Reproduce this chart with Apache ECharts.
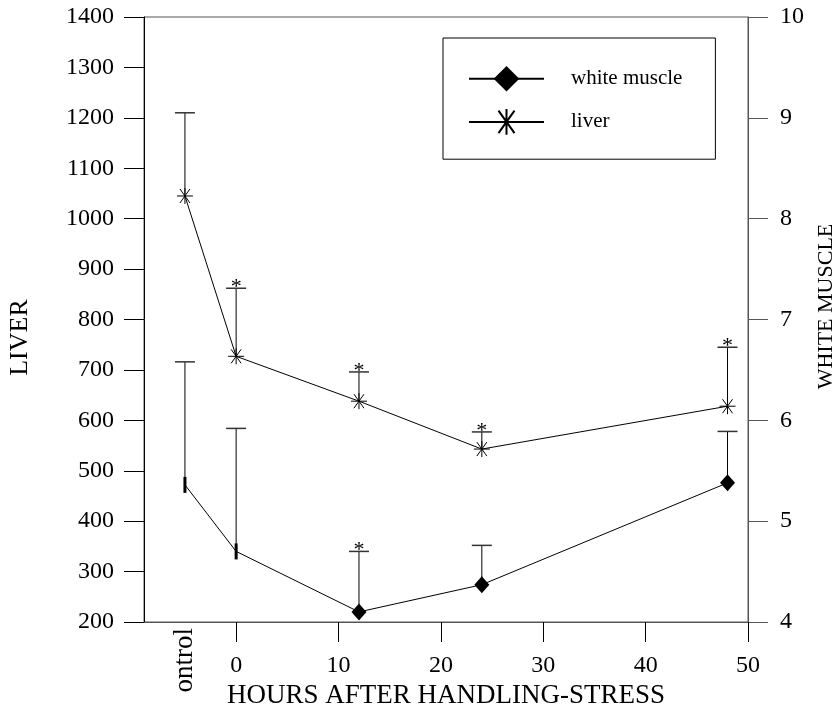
<!DOCTYPE html>
<html><head><meta charset="utf-8">
<script src="https://cdn.jsdelivr.net/npm/echarts@6/dist/echarts.min.js"></script>
<style>html,body{margin:0;padding:0;background:#fff}#c{width:834px;height:713px}</style>
</head><body><div id="c"></div>
<script>
// ---- data ----
const hours = [-5, 0, 12, 24, 48];          // -5 = position of the "Control" group
const liver = [1045, 727, 638, 543, 628];
const liverHigh = [1210, 862, 696, 577, 745];
const liverSig = [0, 1, 1, 1, 1];
const muscle = [5.36, 4.70, 4.10, 4.37, 5.38];
const muscleHigh = [6.58, 5.92, 4.70, 4.76, 5.89];
const muscleSig = [0, 0, 1, 0, 0];
const muscleMarkerMissing = [1, 1, 0, 0, 0];
const xTicks = [0, 10, 20, 30, 40, 50];
const controlTick = [-5];
const controlLabel = 'ontrol';
const seriesNames = ['white muscle', 'liver'];

const FONT = "'Liberation Serif', 'Times New Roman', serif";
const STAR = 'path://M8,0L8,16M0,8L16,8M3,1L13,15M13,1L3,15';

function errRender(params, api) {
  const x = api.value(0), v = api.value(1), h = api.value(2), s = api.value(3);
  const p0 = api.coord([x, v]);
  const p1 = api.coord([x, h]);
  const children = [
    {type: 'line', shape: {x1: p0[0], y1: p0[1], x2: p1[0], y2: p1[1]}, style: {stroke: '#000', lineWidth: 1}},
    {type: 'line', shape: {x1: p1[0] - 10, y1: p1[1], x2: p1[0] + 10, y2: p1[1]}, style: {stroke: '#333', lineWidth: 1.5}}
  ];
  if (s) {
    children.push({type: 'text', x: p1[0], y: p1[1] + 10,
      style: {text: '*', font: '22px ' + FONT, fill: '#000', align: 'center', verticalAlign: 'bottom'}});
  }
  return {type: 'group', children: children};
}

const liverData = hours.map((h, i) => [h, liver[i]]);
const muscleData = hours.map((h, i) => muscleMarkerMissing[i]
  ? {value: [h, muscle[i]], symbol: 'rect', symbolSize: [3, 16]}
  : [h, muscle[i]]);
const liverErr = hours.map((h, i) => [h, liver[i], liverHigh[i], liverSig[i]]);
const muscleErr = hours.map((h, i) => [h, muscle[i], muscleHigh[i], muscleSig[i]]);

const plain = v => String(v);

const chart = echarts.init(document.getElementById('c'), null, {renderer: 'canvas'});
chart.setOption({
  animation: false,
  backgroundColor: '#fff',
  textStyle: {fontFamily: FONT, color: '#000'},
  grid: {left: 144, right: 86, top: 17, bottom: 91, outerBoundsMode: 'none', containLabel: false,
    show: true, borderColor: '#555', borderWidth: 1, backgroundColor: 'transparent'},
  legend: {
    data: seriesNames,
    orient: 'vertical',
    left: 443, top: 38,
    itemWidth: 75, itemHeight: 32, itemGap: 15,
    padding: [28, 33, 22, 25],
    borderColor: '#000', borderWidth: 1,
    textStyle: {fontFamily: FONT, fontSize: 21, color: '#000', padding: [0, 0, 0, 22]}
  },
  xAxis: [{
    type: 'value', min: -9, max: 50,
    name: 'HOURS AFTER HANDLING-STRESS', nameLocation: 'middle', nameGap: 57,
    nameTextStyle: {fontFamily: FONT, fontSize: 27, color: '#000'},
    axisLine: {show: true, onZero: false, lineStyle: {color: '#555', width: 1}},
    axisTick: {show: true, inside: false, length: 20, customValues: xTicks, lineStyle: {color: '#000'}},
    axisLabel: {show: true, customValues: xTicks, margin: 32, formatter: plain, fontFamily: FONT, fontSize: 24, color: '#000'},
    splitLine: {show: false}
  }, {
    type: 'value', min: -9, max: 50, position: 'bottom',
    axisLine: {show: false, onZero: false}, axisTick: {show: false}, splitLine: {show: false},
    axisLabel: {show: true, customValues: controlTick, rotate: 90, margin: 6, formatter: () => controlLabel,
      fontFamily: FONT, fontSize: 27, color: '#000'}
  }],
  yAxis: [{
    type: 'value', min: 200, max: 1400, interval: 100, position: 'left',
    name: 'LIVER', nameLocation: 'middle', nameRotate: 90, nameGap: 111,
    nameTextStyle: {fontFamily: FONT, fontSize: 26, color: '#000', padding: [0, 36, 0, 0]},
    axisLine: {show: true, onZero: false, lineStyle: {color: '#000', width: 1}},
    axisTick: {show: true, inside: false, length: 20, lineStyle: {color: '#000'}},
    axisLabel: {margin: 30, formatter: plain, fontFamily: FONT, fontSize: 24, color: '#000'},
    splitLine: {show: false}
  }, {
    type: 'value', min: 4, max: 10, interval: 1, position: 'right',
    name: 'WHITE MUSCLE', nameLocation: 'middle', nameRotate: 90, nameGap: 63,
    nameTextStyle: {fontFamily: FONT, fontSize: 22, color: '#000', padding: [0, 0, 0, 26]},
    axisLine: {show: true, onZero: false, lineStyle: {color: '#555', width: 1}},
    axisTick: {show: true, inside: false, length: 20, lineStyle: {color: '#555'}},
    axisLabel: {margin: 32, formatter: plain, fontFamily: FONT, fontSize: 24, color: '#000'},
    splitLine: {show: false}
  }],
  series: [
    {type: 'custom', name: 'liverErr', xAxisIndex: 0, yAxisIndex: 0, data: liverErr, renderItem: errRender, z: 1, silent: true},
    {type: 'custom', name: 'muscleErr', xAxisIndex: 0, yAxisIndex: 1, data: muscleErr, renderItem: errRender, z: 1, silent: true},
    {type: 'line', name: seriesNames[0], xAxisIndex: 0, yAxisIndex: 1, data: muscleData,
      symbol: 'diamond', symbolSize: [15, 17], z: 3,
      lineStyle: {color: '#000', width: 1}, itemStyle: {color: '#000', borderColor: '#000', borderWidth: 0}},
    {type: 'line', name: seriesNames[1], xAxisIndex: 0, yAxisIndex: 0, data: liverData,
      symbol: STAR, symbolSize: 16, z: 3,
      lineStyle: {color: '#000', width: 1}, itemStyle: {color: 'none', borderColor: '#000', borderWidth: 1}}
  ]
});
</script>
</body></html>
